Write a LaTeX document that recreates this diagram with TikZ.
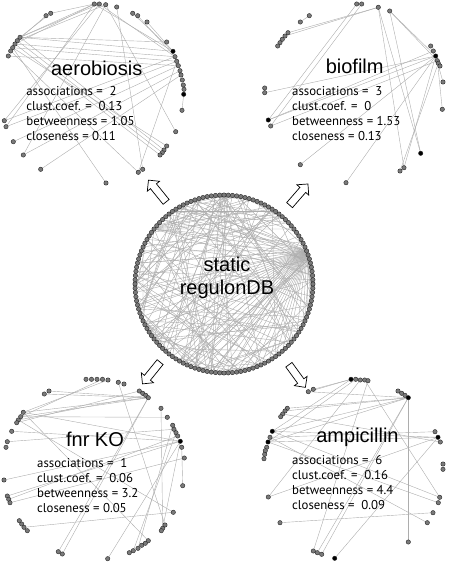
\documentclass[tikz,border=0pt]{standalone}
\usepackage{fontspec}
\setmainfont{Liberation Sans}
\newfontfamily\statfont{PT Sans}
\usetikzlibrary{shapes.arrows, backgrounds}

\begin{document}
\begin{tikzpicture}[x=1pt, y=-1pt,
    gene/.style={circle, draw=black!85, fill=black!52, line width=0.4pt, inner sep=0pt, minimum size=4.4pt},
    hub/.style={gene, fill=black},
    link/.style={draw=black!32, line width=0.4pt},
    title/.style={font=\fontsize{20}{23}\selectfont, align=center},
    stats/.style={font=\statfont\fontsize{12.8}{15}\selectfont, align=left, anchor=west, inner sep=0pt},
    bigarrow/.style={single arrow, draw=black, fill=white, line width=0.7pt, inner sep=3.5pt, minimum height=28pt, single arrow head extend=4pt}]

    \useasboundingbox (0,0) rectangle (448,563);

    % static network
    \foreach \i in {1,...,132}
        \node[gene] (c\i) at ({224+89*cos(\i*2.72727)}, {284-89*sin(\i*2.72727)}) {};
    \node[title] (static) at (227,278) {static\\regulonDB};

    % aerobiosis
    \foreach \n/\x/\y in {a1/94.3/4, a2/99.3/4, a3/105.7/4.7, a4/116.7/7, a5/46/15.7, a6/50.7/13.3,
        a7/132.7/13.3, a8/137.7/15.7, a9/147/22, a10/20/37.3, a11/17.3/40.7, a12/15/44, a13/12.7/47.7,
        a14/10.7/51, a15/8.3/56, a16/166.7/42, a18/175/56.7, a19/176.7/61.3, a20/178.3/65.7,
        a21/180/70.7, a22/181/75, a23/182.3/80, a24/183.3/85, a25/184/89.3, a27/182/110.3,
        a28/4.3/120.7, a29/6/126.7, a30/175.7/131.7, a31/13.3/141.7, a32/166.7/146, a33/164/150,
        a34/162.3/152.7, a35/160/155, a36/23.3/155, a37/40.7/169.3, a38/142.7/169.3, a39/138.3/172.3,
        a40/106/183}
        \node[gene] (\n) at (\x,\y) {};
    \node[hub] (a17) at (173,51.3) {};
    \node[hub] (a26) at (183.7,94.3) {};
    \node[title] (aer) at (96.7,68) {aerobiosis};
    \node[stats] (aerstats) at (26.2,113.3) {associations = \ 2\\clust.coef. = \ 0.13\\betweenness = 1.05\\closeness = 0.11};

    % biofilm
    \foreach \n/\x/\y in {b1/356.7/4, b2/361.7/4, b3/378.3/7.3, b4/389.7/11, b5/309.3/15.7, b6/300.3/22,
        b7/288/32.7, b8/285/36, b9/282.3/39.3, b10/280/42.7, b11/277.7/46, b12/430.7/46, b13/433.3/51,
        b15/437.3/60.7, b16/438.3/63.3, b17/440/66, b18/443/82, b19/442.3/109.3, b20/264.7/88,
        b21/264.7/92.7, b23/270.7/126, b25/404/167.7, b26/400/171, b27/300.3/164.7, b28/346/182.7}
        \node[gene] (\n) at (\x,\y) {};
    \node[hub] (b14) at (435.7,56) {};
    \node[hub] (b22) at (268.3,120) {};
    \node[hub] (b24) at (420.7,153.3) {};
    \node[title] (bio) at (354.7,66) {biofilm};
    \node[stats] (biostats) at (292,113.3) {associations = \ 3\\clust.coef. = \ 0\\betweenness = 1.53\\closeness = 0.13};

    % fnr KO
    \foreach \n/\x/\y in {f1/86/379.3, f2/91.5/379.3, f3/97/379.3, f4/102.5/379.3, f5/108/380,
        f6/118.3/382.3, f7/124/384, f8/44.3/394, f9/49/391, f10/139.3/391, f11/142.7/393.3,
        f12/145.7/395.3, f13/148.3/397.7, f14/23.3/412.3, f15/20.7/416.7, f16/18.3/420, f17/16.7/422.7,
        f18/161/408.3, f19/167.3/417.3, f20/172.7/425.3, f21/174/429.3, f22/176/432.7, f23/177.7/436,
        f25/181.7/447.3, f26/184.3/458, f27/182.7/485.7, f28/11.7/431.3, f29/7.3/441.7, f30/6/447.3,
        f31/4/480, f32/7.3/496, f33/8.7/499.3, f34/10/502.7, f35/173.3/512.3, f36/19.3/520.7,
        f37/21.7/524, f38/24/527.3, f39/27.3/530.7, f40/165/525, f41/162.7/528.3, f42/161.3/530.7,
        f43/148.3/540.7, f44/145.3/543.3, f45/141.7/545.3, f46/138/548.3, f47/133.3/550.7,
        f48/129.3/552.7, f49/58.3/551.7, f50/62.3/554, f51/107.7/558.7}
        \node[gene] (\n) at (\x,\y) {};
    \node[hub] (f24) at (180.3,441.3) {};
    \node[title] (fnr) at (95,439) {fnr KO};
    \node[stats] (fnrstats) at (37,485.8) {associations = \ 1\\clust.coef. = \ 0.06\\betweenness = 3.2\\closeness = 0.05};

    % ampicillin
    \foreach \n/\x/\y in {p2/355.7/379.3, p3/360.3/380, p4/364.7/380, p5/368/380.7, p6/308.3/391.7,
        p7/313.3/389.3, p8/398/391, p9/401.7/393.3, p10/405/395.3, p12/287.3/408.3, p13/285/411,
        p14/282.7/414, p15/280.7/416.7, p17/270/437.3, p19/266.7/447.3, p20/265.3/450.7,
        p21/264.7/454.3, p22/264/458.7, p23/435/431.7, p25/440.3/442, p26/443/464, p27/443/469.3,
        p28/268.3/497, p29/439.7/497.3, p30/438.3/502.7, p31/433/512.7, p32/280/522.7,
        p33/427.3/522.7, p34/408.3/542, p35/313.3/551, p36/317.3/552.7, p37/321.7/554.3}
        \node[gene] (\n) at (\x,\y) {};
    \foreach \n/\x/\y in {p1/351/379.3, p11/408.3/397.7, p16/272.3/431.3, p18/268/442, p24/438/437.3, p38/334.7/558.3}
        \node[hub] (\n) at (\x,\y) {};
    \node[title] (amp) at (357.5,437) {ampicillin};
    \node[stats] (ampstats) at (292,482.2) {associations = \ 6\\clust.coef. = \ 0.16\\betweenness = 4.4\\closeness = \ 0.09};

    % arrows out of the static network
    \node[bigarrow, rotate=129] (toaer) at (158.5,192.5) {};
    \node[bigarrow, rotate=49] (tobio) at (297.5,196) {};
    \node[bigarrow, rotate=231] (tofnr) at (152.5,371.5) {};
    \node[bigarrow, rotate=306] (toamp) at (296,374.5) {};

    \begin{scope}[on background layer]
        % static links
        \foreach \j in {68,70,...,114} \draw[link] (c8) -- (c\j);
        \foreach \j in {40,43,...,67} \draw[link] (c8) -- (c\j);
        \foreach \j in {116,119,...,131} \draw[link] (c8) -- (c\j);
        \foreach \j in {2,6,...,30} \draw[link] (c52) -- (c\j);
        \foreach \j in {76,84,...,124} \draw[link] (c33) -- (c\j);
        \pgfmathsetseed{17}
        \foreach \k in {1,...,150} {
            \pgfmathrandominteger{\i}{1}{132}
            \pgfmathrandominteger{\j}{1}{132}
            \draw[link] (c\i) -- (c\j);
        }

        \path[link]
        (a10) edge (a1) (a10) edge (a2) (a11) edge (a3) (a12) edge (a1) (a10) edge (a6)
        (a11) edge (a5) (a10) edge (a16) (a10) edge (a17) (a12) edge (a18) (a13) edge (a19)
        (a10) edge (a33) (a11) edge (a34) (a12) edge (a35) (a14) edge (a39) (a13) edge (a32)
        (a2) edge (a28) (a1) edge (a29) (a3) edge (a30) (a6) edge (a1) (a7) edge (a17)
        (a8) edge (a18) (a4) edge (a38) (a1) edge (a17) (a2) edge (a18) (a9) edge (a17)
        (a18) edge (a28) (a19) edge (a29) (a20) edge (a31) (a36) edge (a21) (a37) edge (a22)
        (a26) edge (a27) (a19) edge (a39) (a13) edge (a40) (a15) edge (a20) (a3) edge (a36)
        ;

        \path[link]
        (b1) edge (b22) (b2) edge (b23) (b3) edge (b7) (b3) edge (b8) (b5) edge (b6)
        (b3) edge (b24) (b3) edge (b25) (b4) edge (b14) (b4) edge (b15) (b4) edge (b24)
        (b14) edge (b21) (b14) edge (b22) (b15) edge (b23) (b14) edge (b27) (b14) edge (b28)
        (b14) edge (b25) (b16) edge (b26) (b14) edge (b18) (b15) edge (b19) (b13) edge (b22)
        ;

        \path[link]
        (f5) edge (f14) (f4) edge (f15) (f9) edge (f13) (f13) edge (f14) (f13) edge (f15)
        (f12) edge (f16) (f14) edge (f24) (f15) edge (f19) (f6) edge (f40) (f18) edge (f41)
        (f13) edge (f49) (f13) edge (f50) (f14) edge (f43) (f16) edge (f35) (f24) edge (f31)
        (f24) edge (f32) (f23) edge (f33) (f24) edge (f28) (f24) edge (f51) (f24) edge (f41)
        (f22) edge (f47) (f25) edge (f27) (f26) edge (f34) (f35) edge (f38) (f21) edge (f29)
        (f10) edge (f17) (f20) edge (f46) (f8) edge (f13)
        ;

        \path[link]
        (p1) edge (p6) (p1) edge (p7) (p1) edge (p16) (p2) edge (p18) (p11) edge (p12)
        (p11) edge (p13) (p11) edge (p16) (p11) edge (p18) (p11) edge (p6) (p11) edge (p36)
        (p11) edge (p37) (p11) edge (p34) (p5) edge (p35) (p4) edge (p29) (p3) edge (p28)
        (p24) edge (p16) (p24) edge (p18) (p24) edge (p38) (p24) edge (p28) (p23) edge (p17)
        (p16) edge (p29) (p18) edge (p30) (p32) edge (p31) (p25) edge (p14) (p33) edge (p17)
        ;
    \end{scope}

\end{tikzpicture}
\end{document}
